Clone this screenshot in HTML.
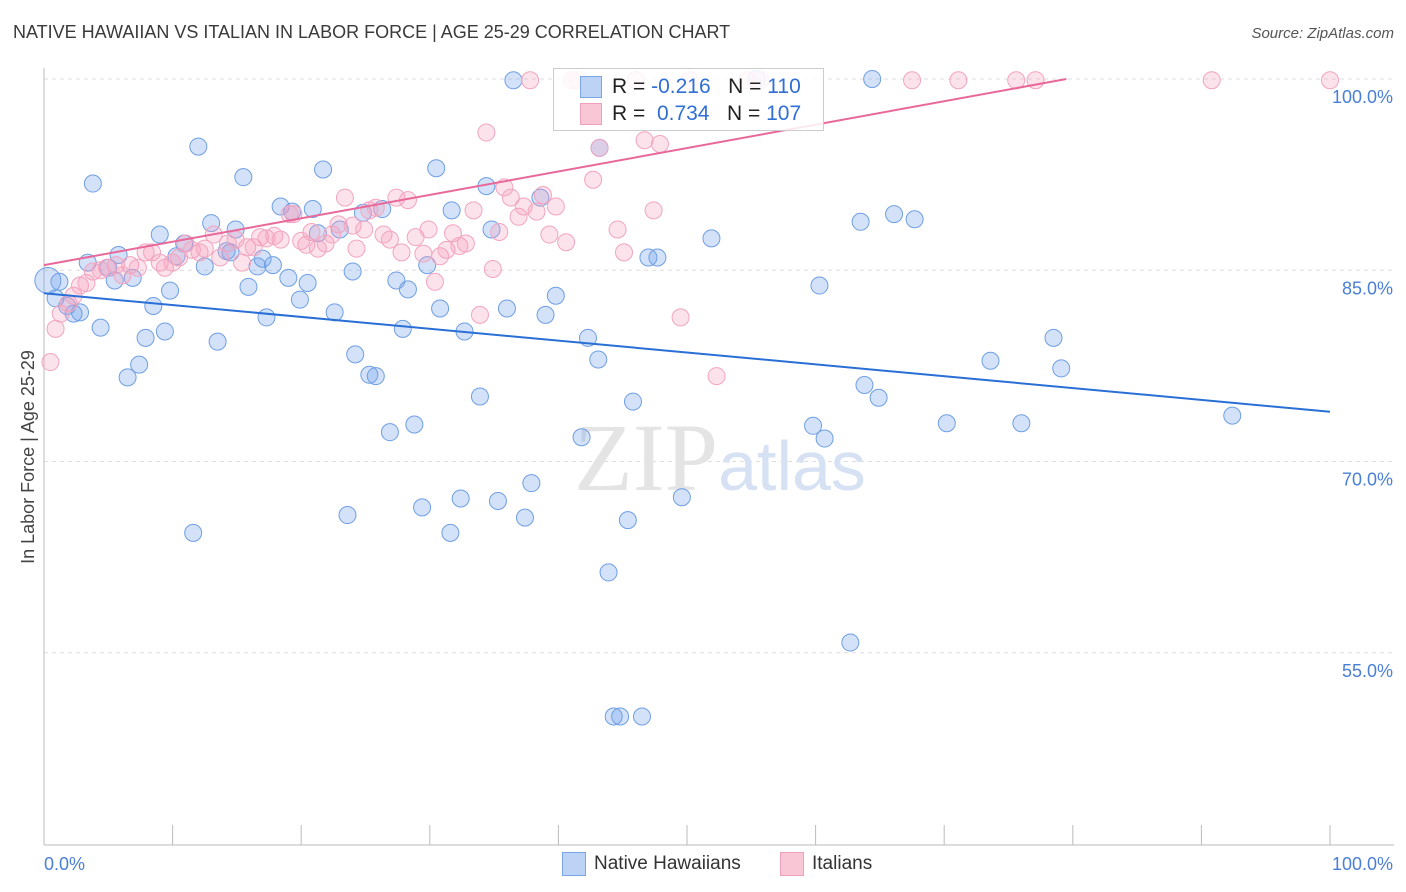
<!DOCTYPE html>
<html><head><meta charset="utf-8">
<style>
body{margin:0;background:#fff;font-family:"Liberation Sans",sans-serif;}
#wrap{position:relative;width:1406px;height:892px;overflow:hidden;}
.t{position:absolute;white-space:nowrap;}
</style></head>
<body>
<div id="wrap">
<div class="t" style="left:13px;top:22px;font-size:18px;color:#3a3a3a;">NATIVE HAWAIIAN VS ITALIAN IN LABOR FORCE | AGE 25-29 CORRELATION CHART</div>
<div class="t" style="right:12px;top:25px;font-size:15px;color:#555;font-style:italic;">Source: ZipAtlas.com</div>
<svg id="svg" width="1406" height="892" style="position:absolute;left:0;top:0"></svg>
</div>
<script>
const xTicks=[0,10,20,30,40,50,60,70,80,90,100];
const yTicks=[100,85,70,55];
const yTickLabels=["100.0%","85.0%","70.0%","55.0%"];
const blueX=[0.3,1.2,0.9,1.8,2.3,2.8,3.4,3.8,4.4,5.0,5.5,5.8,6.5,6.9,7.4,7.9,8.5,9.0,9.4,9.8,10.3,10.9,11.6,12.0,12.5,13.0,13.5,14.2,14.5,14.9,15.5,15.9,16.6,17.0,17.3,17.8,18.4,19.0,19.3,19.9,20.5,20.9,21.3,21.7,22.6,23.0,23.6,24.0,24.2,24.8,25.3,25.8,26.3,26.9,27.4,27.9,28.3,28.8,29.4,29.8,30.5,30.8,31.6,31.7,32.4,32.7,33.9,34.4,34.8,35.3,36.0,36.5,37.4,37.9,38.6,39.0,39.8,41.8,42.3,43.1,43.2,43.9,44.3,44.8,45.4,45.8,46.5,47.0,47.7,49.6,51.9,55.4,59.8,60.3,60.7,62.7,63.5,63.8,64.4,64.9,66.1,67.7,70.2,73.6,76.0,78.5,79.1,92.4];
const blueY=[84.2,84.1,82.8,82.2,81.6,81.7,85.6,91.8,80.5,85.2,84.2,86.2,76.6,84.4,77.6,79.7,82.2,87.8,80.2,83.4,86.1,87.1,64.4,94.7,85.3,88.7,79.4,86.5,86.4,88.2,92.3,83.7,85.3,85.9,81.3,85.4,90.0,84.4,89.6,82.7,84.0,89.8,87.9,92.9,81.7,88.2,65.8,84.9,78.4,89.5,76.8,76.7,89.8,72.3,84.2,80.4,83.5,72.9,66.4,85.4,93.0,82.0,64.4,89.7,67.1,80.2,75.1,91.6,88.2,66.9,82.0,99.9,65.6,68.3,90.7,81.5,83.0,71.9,79.7,78.0,94.6,61.3,50.0,50.0,65.4,74.7,50.0,86.0,86.0,67.2,87.5,100,72.8,83.8,71.8,55.8,88.8,76.0,100,75.0,89.4,89.0,73.0,77.9,73.0,79.7,77.3,73.6];
const pinkX=[0.5,0.9,1.3,1.9,2.3,2.8,3.3,3.8,4.4,4.9,5.6,6.1,6.7,7.3,7.9,8.4,9.0,9.4,10.0,10.5,11.0,11.5,12.1,12.5,13.2,13.7,14.3,14.9,15.4,15.8,16.3,16.8,17.3,17.9,18.4,19.1,19.4,20.0,20.4,20.8,21.3,21.9,22.4,22.9,23.4,24.0,24.3,24.9,25.3,25.8,26.4,26.9,27.4,27.8,28.3,28.9,29.5,29.9,30.4,30.8,31.3,31.8,32.3,32.8,33.4,33.9,34.4,34.9,35.4,35.8,36.3,36.9,37.3,37.8,38.3,38.8,39.3,39.8,40.6,41.1,41.5,42.7,43.2,44.6,45.1,46.0,46.7,47.4,47.9,49.5,50.2,52.3,54.7,55.7,67.5,71.1,75.6,77.1,90.8,100];
const pinkY=[77.8,80.4,81.6,82.4,83.0,83.8,84.0,84.9,85.0,85.2,85.4,84.6,85.4,85.2,86.4,86.4,85.6,85.2,85.6,86.0,87.1,86.6,86.4,86.7,87.8,86.0,87.1,87.4,85.6,86.8,86.8,87.6,87.5,87.7,87.4,89.4,89.4,87.3,87.0,88.0,86.7,87.1,87.8,88.6,90.7,88.5,86.7,88.2,89.7,89.9,87.8,87.4,90.7,86.4,90.5,87.6,86.3,88.2,84.1,86.1,86.6,87.9,86.9,87.1,89.7,81.5,95.8,85.1,88.0,91.5,90.7,89.2,90.0,99.9,89.6,90.9,87.8,90.0,87.2,99.9,99.9,92.1,94.6,88.2,86.4,99.9,95.2,89.7,94.9,81.3,99.9,76.7,99.9,99.9,99.9,99.9,99.9,99.9,99.9,99.9];
const blueTrend=[[0,83.2],[100,73.9]];
const pinkTrend=[[0,85.4],[79.5,100]];

const NS="http://www.w3.org/2000/svg";
const svg=document.getElementById('svg');
const X0=44,X1=1330,Y100=79,PXPER=12.75;
const sx=v=>X0+(X1-X0)*v/100;
const sy=v=>Y100+(100-v)*PXPER;
function mk(tag,attrs,parent){const e=document.createElementNS(NS,tag);for(const k in attrs)e.setAttribute(k,attrs[k]);(parent||svg).appendChild(e);return e;}

yTicks.forEach((v,i)=>{
  const g=mk('line',{x1:X0,x2:1394,y1:sy(v),y2:sy(v),stroke:'#ddd','stroke-dasharray':'4,4'});
  
  
  const t=mk('text',{x:1393,y:sy(v)+24,'text-anchor':'end','font-size':18,fill:'#4a7fd6','font-family':'Liberation Sans'});
  t.textContent=yTickLabels[i];
  
  
});
const ax=mk('line',{x1:X0,x2:1394,y1:845,y2:845,stroke:'#bbb'});


const ay=mk('line',{x1:X0,x2:X0,y1:68,y2:845,stroke:'#bbb'});


xTicks.forEach(v=>{
  const l=mk('line',{x1:sx(v),x2:sx(v),y1:825,y2:845,stroke:'#bbb'});
  
  
});
[["0.0%",44,'start'],["100.0%",1393,'end']].forEach(a=>{
  const t=mk('text',{x:a[1],y:870,'text-anchor':a[2],'font-size':18,fill:'#4a7fd6','font-family':'Liberation Sans'});
  t.textContent=a[0];
  
  
});
const yt=mk('text',{x:34,y:457,'text-anchor':'middle','font-size':18,fill:'#444','font-family':'Liberation Sans',transform:'rotate(-90 34 457)'});
yt.textContent='In Labor Force | Age 25-29';



const wm=mk('text',{x:720,y:490,'text-anchor':'middle','font-size':96,'font-family':'Liberation Serif',fill:'#e4e4e4'});
wm.innerHTML='ZIP<tspan font-family="Liberation Sans" font-size="70" fill="#d6e2f4">atlas</tspan>';



blueX.forEach((x,i)=>{
  const c=mk('circle',{cx:sx(x),cy:sy(blueY[i]),r:i==0?13:8.5,fill:'rgba(110,160,235,0.3)',stroke:'#6f9fe3','stroke-width':1});
  
  
});
pinkX.forEach((x,i)=>{
  const c=mk('circle',{cx:sx(x),cy:sy(pinkY[i]),r:8.5,fill:'rgba(245,160,190,0.3)',stroke:'#f2a5c0','stroke-width':1});
  
  
});
const bl=mk('line',{x1:sx(blueTrend[0][0]),y1:sy(blueTrend[0][1]),x2:sx(blueTrend[1][0]),y2:sy(blueTrend[1][1]),stroke:'#2a6fd6','stroke-width':2});


const pl=mk('line',{x1:sx(pinkTrend[0][0]),y1:sy(pinkTrend[0][1]),x2:sx(pinkTrend[1][0]),y2:sy(pinkTrend[1][1]),stroke:'#e8689a','stroke-width':2});


</script>
<div style="position:absolute;left:553px;top:68px;width:269px;height:61px;background:rgba(255,255,255,0.85);border:1px solid #ccc;font-size:21px;">
 <div style="position:absolute;left:26px;top:7px;width:20px;height:20px;background:#bcd3f5;border:1px solid #7aa5e6;"></div>
 <div class="t" style="left:58px;top:6px;color:#222;">R = <span style="color:#2f6fd6">-0.216</span>&nbsp;&nbsp;&nbsp;N = <span style="color:#2f6fd6">110</span></div>
 <div style="position:absolute;left:26px;top:34px;width:20px;height:20px;background:#f9c6d6;border:1px solid #efa0ba;"></div>
 <div class="t" style="left:58px;top:33px;color:#222;">R = &nbsp;<span style="color:#2f6fd6">0.734</span>&nbsp;&nbsp;&nbsp;N = <span style="color:#2f6fd6">107</span></div>
</div>
<div style="position:absolute;left:562px;top:852px;font-size:19px;color:#333;">
 <div style="position:absolute;left:0;top:0;width:22px;height:22px;background:#bcd3f5;border:1px solid #7aa5e6;"></div>
 <div class="t" style="left:32px;top:1px;">Native Hawaiians</div>
 <div style="position:absolute;left:218px;top:0;width:22px;height:22px;background:#f9c6d6;border:1px solid #efa0ba;"></div>
 <div class="t" style="left:250px;top:1px;">Italians</div>
</div>
</body></html>
